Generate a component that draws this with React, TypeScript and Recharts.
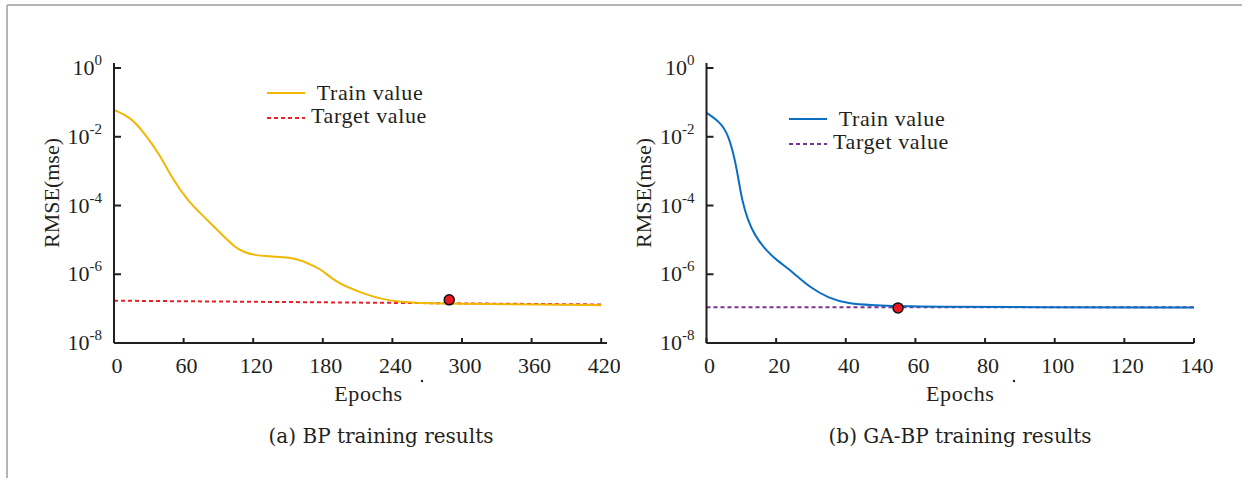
import React from 'react';
import { LineChart, Line, XAxis, YAxis, ReferenceDot, Legend } from 'recharts';

// ---------- (a) BP training ----------
const bpEpochs = [0, 14, 26, 38.5, 51, 63, 77, 91, 105, 112, 119, 141, 158, 171, 180, 191, 214, 240, 300, 360, 420];
const bpTrain = [0.06, 0.038, 0.013, 3.4e-3, 5.5e-4, 1.45e-4, 4.9e-5, 1.66e-5, 5.7e-6, 4.5e-6, 3.6e-6, 3.2e-6, 2.9e-6, 1.8e-6, 1.3e-6, 5.8e-7, 2.8e-7, 1.45e-7, 1.38e-7, 1.32e-7, 1.26e-7];
const bpTargetEpochs = [0, 420];
const bpTarget = [1.7e-7, 1.32e-7];
const bpBest = { epoch: 289, value: 1.8e-7 };
const bpTicks = [0, 60, 120, 180, 240, 300, 360, 420];

// ---------- (b) GA-BP training ----------
const gaEpochs = [0, 4.1, 6.4, 8.2, 9.4, 10.2, 11.8, 13.8, 17.3, 20.4, 24.8, 29.4, 35.1, 41, 48.6, 55, 140];
const gaTrain = [0.05, 0.026, 0.0105, 2.1e-3, 4.4e-4, 1.45e-4, 3.9e-5, 1.35e-5, 4.7e-6, 2.45e-6, 1.15e-6, 4.3e-7, 2.0e-7, 1.36e-7, 1.26e-7, 1.12e-7, 1.08e-7];
const gaTargetEpochs = [0, 140];
const gaTarget = [1.1e-7, 1.1e-7];
const gaBest = { epoch: 55, value: 1.05e-7 };
const gaTicks = [0, 20, 40, 60, 80, 100, 120, 140];

const yTicks = [1, 1e-2, 1e-4, 1e-6, 1e-8];
const legendLabels = ['Train value', 'Target value'];
const captions = ['(a) BP training results', '(b) GA-BP training results'];

const SERIF = '"Liberation Serif", "Times New Roman", serif';
const INK = '#231f20';

const zip = (xs: number[], ys: number[]) => xs.map((e, i) => ({ epoch: e, v: ys[i] }));

const YTick = (props: any) => {
  const { x, y, payload } = props;
  const exp = Math.round(Math.log10(payload.value));
  return (
    <g>
      <line x1={x} x2={x + 7} y1={y} y2={y} stroke={INK} strokeWidth={2} />
      <text x={x - 12} y={y + 7} textAnchor="end" fontFamily={SERIF} fontSize={22} fill={INK}>
        <tspan>10</tspan>
        <tspan dy={-10} fontSize={15}>{String(exp)}</tspan>
      </text>
    </g>
  );
};

const XTick = (props: any) => {
  const { x, y, payload } = props;
  return (
    <g>
      <line x1={x} x2={x} y1={y} y2={y - 5} stroke={INK} strokeWidth={2} />
      <text x={x + 3} y={y + 30} textAnchor="middle" fontFamily={SERIF} fontSize={22} fill={INK}>
        {String(payload.value)}
      </text>
    </g>
  );
};

type PanelProps = {
  width: number;
  margin: { top: number; left: number; right: number; bottom: number };
  xDomain: [number, number];
  xTicks: number[];
  train: { epoch: number; v: number }[];
  target: { epoch: number; v: number }[];
  best: { epoch: number; value: number };
  trainColor: string;
  targetColor: string;
  legendPos: { left: number; top: number };
  epochsShift: number;
};

const Panel = (p: PanelProps) => {
  const LegendContent = () => (
    <svg width={180} height={60} style={{ overflow: 'visible', display: 'block' }}>
      <line x1={5} x2={43} y1={15} y2={15} stroke={p.trainColor} strokeWidth={2} />
      <text x={108} y={22} textAnchor="middle" fontFamily={SERIF} fontSize={22} letterSpacing={0.6} fill={INK}>
        {legendLabels[0]}
      </text>
      <line x1={5} x2={43} y1={40} y2={40} stroke={p.targetColor} strokeWidth={2} strokeDasharray="4 3" />
      <text x={107} y={45} textAnchor="middle" fontFamily={SERIF} fontSize={22} letterSpacing={0.6} fill={INK}>
        {legendLabels[1]}
      </text>
    </svg>
  );
  return (
    <LineChart width={p.width} height={478} margin={p.margin}>
      <XAxis
        type="number"
        dataKey="epoch"
        domain={p.xDomain}
        ticks={p.xTicks}
        allowDataOverflow
        height={1}
        tickSize={0}
        tickMargin={0}
        tickLine={false}
        tick={<XTick />}
        axisLine={{ stroke: INK, strokeWidth: 2 }}
        interval={0}
        label={{
          content: (lp: any) => {
            const vb = lp.viewBox;
            return (
              <text x={vb.x + vb.width / 2 + p.epochsShift} y={vb.y + 58} textAnchor="middle" fontFamily={SERIF} fontSize={22} letterSpacing={0.6} fill={INK}>
                Epochs
              </text>
            );
          },
        }}
      />
      <YAxis
        type="number"
        scale="log"
        domain={[1e-8, 1.4]}
        ticks={yTicks}
        allowDataOverflow
        width={1}
        tickSize={0}
        tickMargin={0}
        tickLine={false}
        tick={<YTick />}
        axisLine={{ stroke: INK, strokeWidth: 2 }}
        interval={0}
        label={{
          content: (lp: any) => {
            const vb = lp.viewBox;
            const cx = vb.x + vb.width - 63;
            const cy = 193;
            return (
              <text x={cx} y={cy} transform={`rotate(-90, ${cx}, ${cy})`} textAnchor="middle" dominantBaseline="central" fontFamily={SERIF} fontSize={22} fill={INK}>
                RMSE(mse)
              </text>
            );
          },
        }}
      />
      <Legend
        layout="vertical"
        align="center"
        verticalAlign="middle"
        content={<LegendContent />}
        wrapperStyle={{ left: p.legendPos.left, top: p.legendPos.top, width: 180, height: 60 }}
      />
      <Line
        data={p.target}
        dataKey="v"
        type="linear"
        stroke={p.targetColor}
        strokeWidth={2}
        strokeDasharray="4 3"
        dot={false}
        isAnimationActive={false}
        legendType="none"
      />
      <Line
        data={p.train}
        dataKey="v"
        type="basis"
        stroke={p.trainColor}
        strokeWidth={2}
        dot={false}
        isAnimationActive={false}
        legendType="none"
      />
      <ReferenceDot
        x={p.best.epoch}
        y={p.best.value}
        r={5}
        fill="#e8191f"
        stroke="#111"
        strokeWidth={1.5}
        ifOverflow="visible"
      />
    </LineChart>
  );
};

export default function App() {
  return (
    <div style={{ position: 'absolute', left: 0, top: 0, width: 1242, height: 478, background: '#fff', overflow: 'hidden' }}>
      <svg width={1242} height={478} style={{ position: 'absolute', left: 0, top: 0 }}>
        <line x1={7} x2={1242} y1={5} y2={5} stroke="#b4b4b4" strokeWidth={2} />
        <line x1={7} x2={7} y1={5} y2={478} stroke="#b4b4b4" strokeWidth={2} />
        <circle cx={422} cy={381} r={1.2} fill={INK} />
        <circle cx={1014} cy={381} r={1.2} fill={INK} />
        <text x={381} y={443} textAnchor="middle" fontFamily='"DejaVu Serif", serif' fontSize={20} fill={INK}>
          {captions[0]}
        </text>
        <text x={960} y={443} textAnchor="middle" fontFamily='"DejaVu Serif", serif' fontSize={20} fill={INK}>
          {captions[1]}
        </text>
      </svg>
      <div style={{ position: 'absolute', left: 0, top: 0 }}>
        <Panel
          width={620}
          margin={{ top: 63, left: 113, right: 13, bottom: 134 }}
          xDomain={[0, 425]}
          xTicks={bpTicks}
          train={zip(bpEpochs, bpTrain)}
          target={zip(bpTargetEpochs, bpTarget)}
          best={bpBest}
          trainColor="#f2b705"
          targetColor="#e8202a"
          legendPos={{ left: 262, top: 78 }}
          epochsShift={8}
        />
      </div>
      <div style={{ position: 'absolute', left: 620, top: 0 }}>
        <Panel
          width={622}
          margin={{ top: 63, left: 85.5, right: 48, bottom: 134 }}
          xDomain={[0, 140]}
          xTicks={gaTicks}
          train={zip(gaEpochs, gaTrain)}
          target={zip(gaTargetEpochs, gaTarget)}
          best={gaBest}
          trainColor="#0a6fc2"
          targetColor="#7b3294"
          legendPos={{ left: 164, top: 104 }}
          epochsShift={10}
        />
      </div>
    </div>
  );
}
